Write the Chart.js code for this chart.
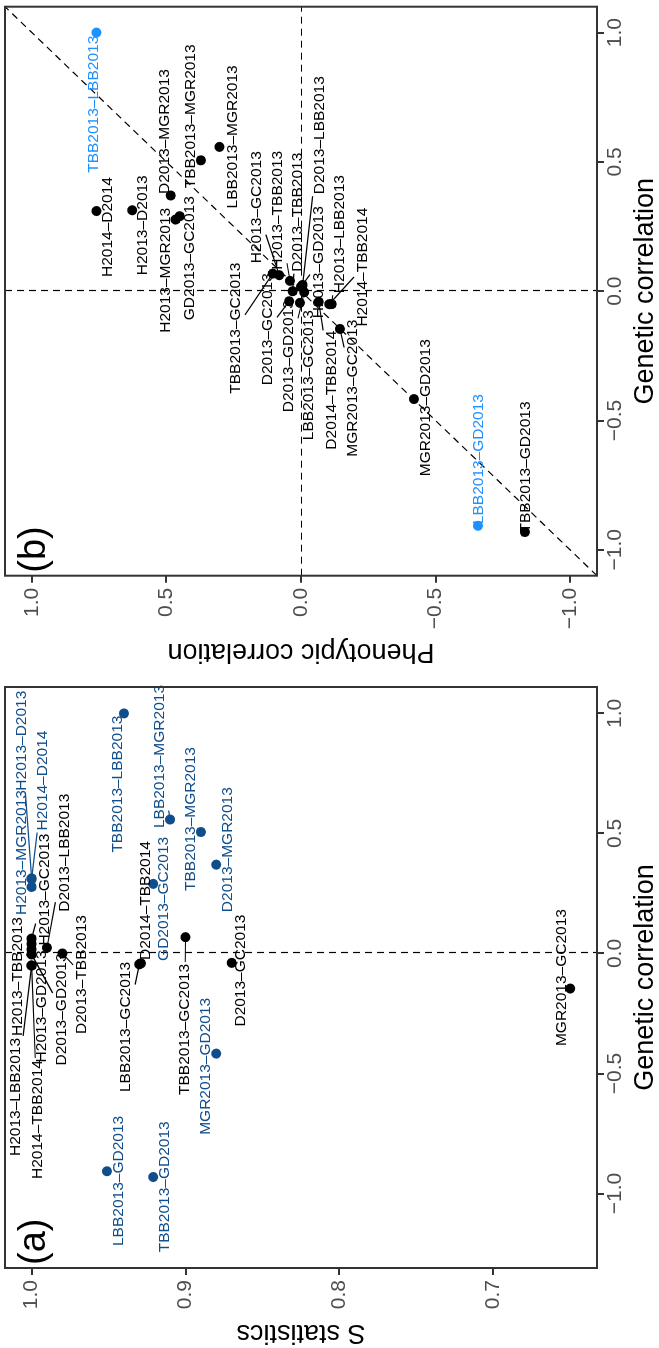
<!DOCTYPE html>
<html>
<head>
<meta charset="utf-8">
<script src="https://cdn.jsdelivr.net/npm/chart.js@4.4.1/dist/chart.umd.min.js"></script>
<style>
  html, body { margin: 0; padding: 0; background: #fff; overflow: hidden; }
  /* the figure is laid out landscape, then turned a quarter left */
  #figure {
    position: absolute; left: 0; top: 0;
    width: 1348px; height: 659px;
    transform-origin: 0 0;
    transform: translate(0, 1348px) rotate(-90deg);
  }
  #figure canvas { position: absolute; top: 0; }
  #panel-a { left: 0; }
  #panel-b { left: 680px; }
</style>
</head>
<body>
<div id="figure">
  <canvas id="panel-a" width="680" height="659"></canvas>
  <canvas id="panel-b" width="668" height="659"></canvas>
</div>
<script>
// ─── DATA ─────────────────────────────────────────────────
const pairs = [
  'H2013–D2013', 'H2013–TBB2013', 'H2013–LBB2013', 'H2013–MGR2013', 'H2013–GD2013', 'H2013–GC2013',
  'D2013–TBB2013', 'D2013–LBB2013', 'D2013–MGR2013', 'D2013–GD2013', 'D2013–GC2013',
  'TBB2013–LBB2013', 'TBB2013–MGR2013', 'TBB2013–GD2013', 'TBB2013–GC2013',
  'LBB2013–MGR2013', 'LBB2013–GD2013', 'LBB2013–GC2013',
  'MGR2013–GD2013', 'MGR2013–GC2013', 'GD2013–GC2013',
  'H2014–D2014', 'H2014–TBB2014', 'D2014–TBB2014'
];
const genetic = [
  0.313, 0.04, -0.05, 0.277, 0.017, 0.062,
  0.0, 0.024, 0.37, -0.004, -0.039,
  1.0, 0.506, -0.931, 0.068,
  0.558, -0.907, -0.045,
  -0.417, -0.146, 0.29,
  0.31, -0.05, -0.041
];
const phenotypic = [
  0.627, 0.041, -0.114, 0.466, 0.0, 0.081,
  0.031, -0.006, 0.484, -0.012, 0.044,
  0.76, 0.372, -0.832, 0.105,
  0.303, -0.658, 0.004,
  -0.42, -0.145, 0.451,
  0.76, -0.105, -0.066
];
const sStatistic = [
  1.0, 1.0, 1.0, 1.0, 1.0, 1.0,
  0.98, 0.99, 0.88, 1.0, 0.87,
  0.94, 0.89, 0.921, 0.90,
  0.91, 0.951, 0.930,
  0.88, 0.65, 0.921,
  1.0, 1.0, 0.929
];
// 1 = highlighted in blue
const highlightA = [1, 0, 0, 1, 0, 0, 0, 0, 1, 0, 0, 1, 1, 1, 0, 1, 1, 0, 1, 0, 1, 1, 0, 0];
const highlightB = [0, 0, 0, 0, 0, 0, 0, 0, 0, 0, 0, 1, 0, 0, 0, 0, 1, 0, 0, 0, 0, 0, 0, 0];

const geneticTicks = [-1, -0.5, 0, 0.5, 1];
const phenoTicks = [-1, -0.5, 0, 0.5, 1];
const sTicks = [0.7, 0.8, 0.9, 1.0];

// ─── LABEL NUDGES (px from the point, landscape frame) ────
const nudgeA = [
  [137.7, -10], [-32.6, -14], [-131.5, -16], [34.4, -10], [-57, 10], [49, 13],
  [-21, 19.7], [95, 17.3], [15, 11.5], [-55, 30], [-7.7, 9.3],
  [-70.7, -6], [13, -9.7], [-9.8, 12], [-92.3, -1],
  [63, -10.5], [-9.7, 11.8], [-62.7, -13.3],
  [-12.7, -10.7], [11, -8.7], [-15, 11],
  [98.5, 11.5], [-154, 6], [62.8, 4.7]
];
const nudgeB = [
  [-15, 10.8], [70.6, -12], [70, 8.4], [-50.7, -10], [24.6, 18], [67.9, -22.3],
  [79, 5.3], [149.8, 16.9], [64, -6.5], [-64, -15.2], [-27.9, -21.2],
  [-71.7, -2.5], [44, -10], [65, 0.7], [-54.6, -36.8],
  [10, 13.3], [66.7, 0.8], [-72.3, 8.6],
  [-8.7, 11.3], [-59.2, 13.1], [-42, 10],
  [-16, 11.5], [37, 33.8], [-88.4, 13.3]
];

// ─── STYLE ────────────────────────────────────────────────
const FONT = "'Liberation Sans', Arial, Helvetica, sans-serif";
const INK = '#333333';
const TICK_TEXT = '#4D4D4D';
const BLUE_A = '#104E8B';
const BLUE_B = '#1E90FF';

const fmt = v => (v < 0 ? '\u2212' : '') + Math.abs(v).toFixed(1);
const crisp = p => Math.round(p) + 0.5;

function axis(pos, min, max, ticks, title, size, titlePad) {
  const horizontal = pos === 'bottom';
  return {
    type: 'linear',
    position: pos,
    min, max,
    afterBuildTicks: s => { s.ticks = ticks.map(v => ({ value: v })); },
    afterFit: s => {
      if (horizontal) { s.height = size; s.paddingLeft = 0; s.paddingRight = 0; }
      else { s.width = size; s.paddingTop = 0; s.paddingBottom = 0; }
    },
    border: { display: false },
    grid: {
      display: true, drawOnChartArea: false, drawTicks: true,
      tickLength: 7, tickWidth: 2, lineWidth: 2, tickColor: INK, color: INK
    },
    ticks: {
      autoSkip: false,
      maxRotation: 0,
      padding: horizontal ? 1 : 5,
      color: TICK_TEXT,
      font: { family: FONT, size: 21, lineHeight: 1 },
      callback: v => fmt(v)
    },
    title: {
      display: true,
      text: title,
      color: '#000',
      font: { family: FONT, size: 27, lineHeight: 1 },
      padding: titlePad
    }
  };
}

// dashed guides, repelled labels, panel frame and tag
function decor(tag, guides, xs, ys, nudges, colors) {
  return {
    id: 'decor',
    beforeDatasetsDraw(chart) {
      const { ctx, chartArea: a, scales: { x, y } } = chart;
      ctx.save();
      ctx.beginPath();
      ctx.rect(a.left, a.top, a.width, a.height);
      ctx.clip();
      ctx.setLineDash([7, 5]);
      ctx.lineWidth = 1.2;
      ctx.strokeStyle = '#000';
      if (guides.includes('x0')) {
        const px = crisp(x.getPixelForValue(0));
        ctx.beginPath(); ctx.moveTo(px, a.top); ctx.lineTo(px, a.bottom); ctx.stroke();
      }
      if (guides.includes('y0')) {
        const py = crisp(y.getPixelForValue(0));
        ctx.beginPath(); ctx.moveTo(a.left, py); ctx.lineTo(a.right, py); ctx.stroke();
      }
      if (guides.includes('diag')) {
        ctx.beginPath();
        ctx.moveTo(x.getPixelForValue(-2), y.getPixelForValue(-2));
        ctx.lineTo(x.getPixelForValue(2), y.getPixelForValue(2));
        ctx.stroke();
      }
      ctx.restore();
    },
    afterDatasetsDraw(chart) {
      const { ctx, scales: { x, y } } = chart;
      ctx.save();
      ctx.font = `15.5px ${FONT}`;
      ctx.textAlign = 'center';
      ctx.textBaseline = 'middle';
      const items = pairs.map((name, i) => {
        const px = x.getPixelForValue(xs[i]);
        const py = y.getPixelForValue(ys[i]);
        return { name, px, py, cx: px + nudges[i][0], cy: py + nudges[i][1], color: colors[i] };
      });
      ctx.lineWidth = 1.2;
      items.forEach(it => {
        const hw = ctx.measureText(it.name).width / 2 + 2, hh = 9;
        const dx = it.px - it.cx, dy = it.py - it.cy;
        const s = Math.min(dx ? hw / Math.abs(dx) : Infinity, dy ? hh / Math.abs(dy) : Infinity);
        if (s < 1 && Math.hypot(dx, dy) * (1 - s) > 6) {
          ctx.strokeStyle = it.color;
          ctx.beginPath();
          ctx.moveTo(it.cx + dx * s, it.cy + dy * s);
          ctx.lineTo(it.px, it.py);
          ctx.stroke();
        }
      });
      items.forEach(it => {
        ctx.fillStyle = it.color;
        ctx.fillText(it.name, it.cx, it.cy);
      });
      ctx.restore();
    },
    afterDraw(chart) {
      const { ctx, chartArea: a } = chart;
      ctx.save();
      ctx.strokeStyle = INK;
      ctx.lineWidth = 2;
      ctx.strokeRect(a.left, a.top, a.width, a.height);
      ctx.fillStyle = '#000';
      ctx.font = `38px ${FONT}`;
      ctx.textAlign = 'left';
      ctx.textBaseline = 'alphabetic';
      ctx.fillText(tag, a.left + 3, a.top + 40);
      ctx.restore();
    }
  };
}

function panel(canvasId, cfg) {
  return new Chart(document.getElementById(canvasId), {
    type: 'scatter',
    data: {
      datasets: [{
        data: cfg.xs.map((v, i) => ({ x: v, y: cfg.ys[i] })),
        pointRadius: 5,
        pointHoverRadius: 5,
        pointBorderWidth: 0,
        pointBackgroundColor: cfg.colors,
        showLine: false
      }]
    },
    options: {
      responsive: false,
      animation: false,
      devicePixelRatio: 1,
      events: [],
      layout: { padding: cfg.padding },
      plugins: { legend: { display: false }, tooltip: { enabled: false } },
      scales: { x: cfg.x, y: cfg.y }
    },
    plugins: [decor(cfg.tag, cfg.guides, cfg.xs, cfg.ys, cfg.nudges, cfg.colors)]
  });
}

// ─── PANEL (a): S statistics vs genetic correlation ───────
panel('panel-a', {
  tag: '(a)',
  xs: genetic,
  ys: sStatistic,
  colors: highlightA.map(h => h ? BLUE_A : '#000'),
  nudges: nudgeA,
  guides: ['x0'],
  padding: { top: 5, right: 19, bottom: 0, left: 0 },
  x: axis('bottom', -1.31, 1.11, geneticTicks, 'Genetic correlation', 62, { top: 0, bottom: 0 }),
  y: axis('left', 0.6326, 1.0173, sTicks, 'S statistics', 80, { top: 2, bottom: 0 })
});

// ─── PANEL (b): phenotypic vs genetic correlation ─────────
panel('panel-b', {
  tag: '(b)',
  xs: genetic,
  ys: phenotypic,
  colors: highlightB.map(h => h ? BLUE_B : '#000'),
  nudges: nudgeB,
  guides: ['x0', 'y0', 'diag'],
  padding: { top: 5, right: 6.7, bottom: 0, left: 0 },
  x: axis('bottom', -1.1, 1.1, geneticTicks, 'Genetic correlation', 62, { top: 0, bottom: 0 }),
  y: axis('left', -1.1, 1.1, phenoTicks, 'Phenotypic correlation', 92.3, { top: 3, bottom: 0 })
});
</script>
</body>
</html>
